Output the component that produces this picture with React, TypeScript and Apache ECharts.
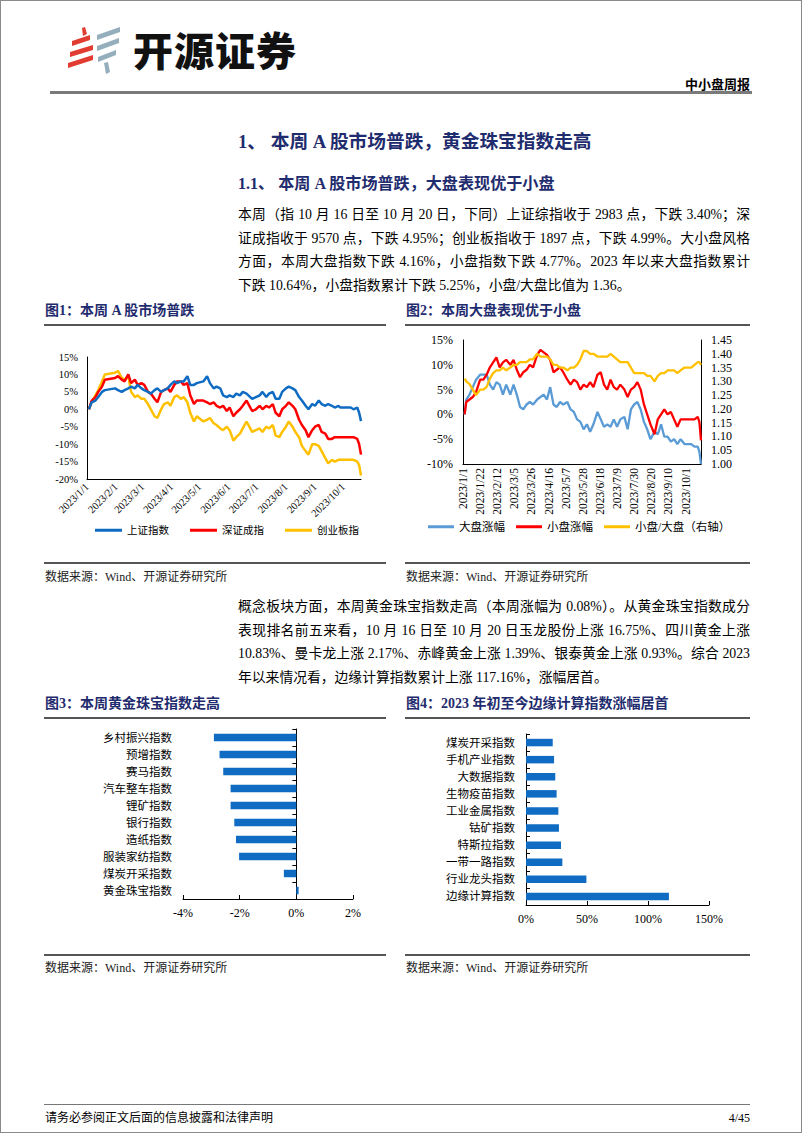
import React, { useEffect, useRef } from "react";
import * as echarts from "echarts";

const FONT = "'Liberation Serif','Times New Roman','Noto Sans CJK SC',serif";
const NAVY = "#1F2C6E";

// ---------- 图1 ----------
const c1Dates = ['2023/1/3','2023/1/6','2023/1/10','2023/1/13','2023/1/17','2023/1/20','2023/1/31','2023/2/3','2023/2/7','2023/2/10','2023/2/14','2023/2/17','2023/2/21','2023/2/24','2023/2/28','2023/3/3','2023/3/7','2023/3/10','2023/3/14','2023/3/17','2023/3/21','2023/3/24','2023/3/28','2023/3/31','2023/4/4','2023/4/7','2023/4/11','2023/4/14','2023/4/18','2023/4/21','2023/4/25','2023/4/28','2023/5/5','2023/5/9','2023/5/12','2023/5/16','2023/5/19','2023/5/23','2023/5/26','2023/5/30','2023/6/2','2023/6/6','2023/6/9','2023/6/13','2023/6/16','2023/6/20','2023/6/26','2023/6/30','2023/7/4','2023/7/7','2023/7/11','2023/7/14','2023/7/18','2023/7/21','2023/7/25','2023/7/28','2023/8/1','2023/8/4','2023/8/8','2023/8/11','2023/8/15','2023/8/18','2023/8/22','2023/8/25','2023/8/29','2023/9/1','2023/9/5','2023/9/8','2023/9/12','2023/9/15','2023/9/19','2023/9/22','2023/9/26','2023/9/28','2023/10/9','2023/10/12','2023/10/16','2023/10/18','2023/10/20'];
const shIndex = [0.0,2.0,2.5,3.5,5.0,5.5,6.0,5.5,5.0,5.5,6.0,6.5,6.0,7.0,6.0,5.5,5.0,4.5,5.5,6.0,5.0,5.5,6.0,7.0,8.0,7.5,8.0,8.0,9.5,7.0,7.0,7.5,8.0,9.5,7.5,6.0,6.5,6.0,4.0,3.5,4.0,3.5,4.5,4.0,5.0,4.5,3.0,3.5,4.0,5.0,3.5,4.5,5.0,3.0,3.0,5.0,6.0,6.5,6.0,5.5,3.5,2.5,1.0,0.0,1.5,1.0,2.5,1.5,1.0,1.5,1.0,0.5,1.0,0.5,0.5,0.0,0.5,-1.0,-3.4];
const szIndex = [0.0,2.5,3.5,5.0,6.5,8.5,9.0,9.5,8.5,8.0,10.0,7.5,8.5,7.0,7.5,7.0,5.0,4.5,3.0,2.0,5.0,5.5,6.0,5.0,7.0,8.0,8.0,7.0,7.5,4.0,1.5,2.5,2.5,2.0,1.5,2.0,1.0,0.5,1.0,-0.5,0.5,-2.0,-1.0,0.0,1.0,2.5,-0.5,0.0,1.0,0.0,1.0,0.5,1.5,-1.0,-2.0,0.0,1.0,2.0,1.0,0.0,-3.0,-4.5,-6.0,-8.0,-6.0,-5.0,-4.5,-6.5,-7.0,-8.5,-8.5,-8.0,-8.0,-8.0,-8.0,-8.0,-8.5,-10.0,-13.0];
const cybIndex = [0.0,2.0,4.0,5.5,8.0,10.0,10.5,11.0,9.0,8.5,9.5,5.0,3.5,4.0,3.0,3.0,1.5,0.0,-2.0,-2.5,0.0,1.5,2.0,1.0,3.5,4.0,3.0,3.5,2.0,-1.0,-3.5,-2.0,-3.5,-3.0,-2.5,-4.0,-4.5,-5.5,-6.0,-5.0,-6.0,-9.0,-8.0,-7.0,-5.5,-3.5,-6.5,-6.0,-5.5,-6.5,-5.0,-5.5,-4.5,-7.5,-8.0,-6.5,-5.0,-3.5,-5.0,-6.5,-8.0,-10.5,-12.0,-13.0,-10.0,-10.0,-10.5,-12.0,-14.0,-15.5,-14.5,-15.0,-14.5,-14.5,-14.5,-14.5,-15.0,-16.0,-19.0];
const c1Names = ['上证指数', '深证成指', '创业板指'];
const c1Ticks = [-20, 15, 5];

// ---------- 图2 ----------
const c2Dates = ['2023/1/3','2023/1/5','2023/1/9','2023/1/13','2023/1/17','2023/1/22','2023/1/26','2023/1/30','2023/2/3','2023/2/7','2023/2/11','2023/2/15','2023/2/19','2023/2/23','2023/2/28','2023/3/4','2023/3/8','2023/3/12','2023/3/16','2023/3/20','2023/3/24','2023/3/28','2023/4/2','2023/4/6','2023/4/10','2023/4/14','2023/4/18','2023/4/22','2023/4/26','2023/4/30','2023/5/4','2023/5/9','2023/5/13','2023/5/17','2023/5/21','2023/5/25','2023/5/29','2023/6/2','2023/6/6','2023/6/10','2023/6/15','2023/6/19','2023/6/23','2023/6/27','2023/7/1','2023/7/5','2023/7/9','2023/7/13','2023/7/18','2023/7/22','2023/7/26','2023/7/30','2023/8/3','2023/8/7','2023/8/11','2023/8/15','2023/8/19','2023/8/24','2023/8/28','2023/9/1','2023/9/5','2023/9/9','2023/9/13','2023/9/17','2023/9/21','2023/9/25','2023/9/30','2023/10/4','2023/10/8','2023/10/12','2023/10/16','2023/10/18','2023/10/20'];
const bigCap = [0.0,3.0,4.0,5.5,7.0,8.0,8.0,8.0,6.0,5.0,6.5,6.0,4.0,6.0,4.0,6.0,4.0,1.5,1.0,2.0,2.5,2.0,3.0,3.5,4.0,3.0,5.5,2.0,1.5,2.5,2.0,2.5,1.0,0.5,-1.0,-1.5,-3.0,-2.0,-3.5,-2.0,0.5,-1.0,-2.5,-2.0,-2.5,-1.0,-2.5,-1.0,-0.5,-3.0,1.0,2.0,2.5,1.0,-1.5,-3.0,-5.0,-3.5,-4.0,-2.0,-4.5,-4.5,-5.5,-5.0,-6.0,-5.0,-6.0,-6.0,-6.0,-6.5,-6.5,-7.5,-10.0];
const smallCap = [0.0,2.5,3.0,3.5,4.5,7.0,7.0,8.0,9.5,10.5,11.5,9.5,10.5,11.0,10.0,11.0,9.0,7.5,8.5,9.0,10.0,9.5,12.0,13.0,12.5,12.0,11.0,8.5,9.0,9.5,8.5,7.0,6.0,7.0,6.5,5.0,6.0,5.5,6.5,5.5,8.0,8.5,6.0,5.0,7.0,5.5,5.0,6.0,5.0,3.5,5.0,5.5,6.5,5.0,2.0,0.0,-2.0,-4.0,-1.0,0.0,1.0,0.0,0.5,-1.0,-2.5,-1.0,-1.0,-1.0,-1.0,-1.0,-0.5,-1.5,-5.25];
const smallBigRatio = [1.31,1.30,1.29,1.27,1.25,1.27,1.27,1.28,1.31,1.33,1.34,1.34,1.35,1.34,1.35,1.36,1.36,1.37,1.37,1.37,1.38,1.38,1.40,1.39,1.39,1.39,1.38,1.36,1.36,1.35,1.35,1.34,1.35,1.35,1.36,1.38,1.41,1.41,1.40,1.40,1.39,1.39,1.39,1.39,1.40,1.39,1.38,1.37,1.37,1.37,1.35,1.33,1.33,1.33,1.33,1.32,1.32,1.30,1.32,1.33,1.33,1.34,1.34,1.34,1.33,1.34,1.35,1.35,1.35,1.36,1.37,1.37,1.36];
const c2Names = ['大盘涨幅', '小盘涨幅', '小盘/大盘（右轴）'];

// ---------- 图3 ----------
const c3Cats = ['乡村振兴指数','预增指数','赛马指数','汽车整车指数','锂矿指数','银行指数','造纸指数','服装家纺指数','煤炭开采指数','黄金珠宝指数'];
const c3Vals = [-2.91,-2.71,-2.58,-2.32,-2.32,-2.19,-2.13,-2.02,-0.44,0.08];

// ---------- 图4 ----------
const c4Cats = ['煤炭开采指数','手机产业指数','大数据指数','生物疫苗指数','工业金属指数','钴矿指数','特斯拉指数','一带一路指数','行业龙头指数','边缘计算指数'];
const c4Vals = [21.9,23.0,24.0,25.1,26.5,27.0,28.7,29.8,49.5,117.16];

const para1 = [
  '本周（指 10 月 16 日至 10 月 20 日，下同）上证综指收于 2983 点，下跌 3.40%；深',
  '证成指收于 9570 点，下跌 4.95%；创业板指收于 1897 点，下跌 4.99%。大小盘风格',
  '方面，本周大盘指数下跌 4.16%，小盘指数下跌 4.77%。2023 年以来大盘指数累计',
  '下跌 10.64%，小盘指数累计下跌 5.25%，小盘/大盘比值为 1.36。',
];
const para2 = [
  '概念板块方面，本周黄金珠宝指数走高（本周涨幅为 0.08%）。从黄金珠宝指数成分',
  '表现排名前五来看，10 月 16 日至 10 月 20 日玉龙股份上涨 16.75%、四川黄金上涨',
  '10.83%、曼卡龙上涨 2.17%、赤峰黄金上涨 1.39%、银泰黄金上涨 0.93%。综合 2023',
  '年以来情况看，边缘计算指数累计上涨 117.16%，涨幅居首。',
];

function buildDays(): string[] {
  const out: string[] = [];
  const d = new Date(2023, 0, 1);
  const e = new Date(2023, 9, 20);
  while (d <= e) {
    out.push(`${d.getFullYear()}/${d.getMonth() + 1}/${d.getDate()}`);
    d.setDate(d.getDate() + 1);
  }
  return out;
}

const BLUE = '#0F6CC2';
const RED = '#FF0000';
const GOLD = '#FFC000';
const LBLUE = '#5B9BD5';
const BAR = '#0F6CC2';

function buildOption() {
  const days = buildDays();
  const lbl = (size: number, extra: any = {}) => ({ color: '#000', fontFamily: FONT, fontSize: size, ...extra });
  const axLine = (onZero = false) => ({ show: true, onZero, lineStyle: { color: '#000', width: 1 } });
  const pct = (v: number) => `${v}%`;
  const lineS = (name: string, dates: string[], vals: number[], color: string, xi: number, yi: number, z: number, w: number) => ({
    name, type: 'line', xAxisIndex: xi, yAxisIndex: yi, z,
    data: dates.map((d, i) => [d, vals[i]]),
    showSymbol: false, symbol: 'none',
    lineStyle: { color, width: w }, itemStyle: { color },
  });
  return {
    animation: false,
    grid: [
      { left: 87, top: 357, width: 274, height: 122, outerBoundsMode: 'none' },
      { left: 463, top: 340, width: 238, height: 124, outerBoundsMode: 'none' },
      { left: 183, top: 729, width: 170, height: 170, outerBoundsMode: 'none' },
      { left: 526, top: 734, width: 183, height: 171, outerBoundsMode: 'none' },
    ],
    legend: [
      {
        data: c1Names, left: 95, top: 525, padding: 0, itemWidth: 27, itemHeight: 3, itemGap: 21, icon: 'rect',
        textStyle: lbl(10.5),
      },
      {
        data: c2Names, left: 428, top: 521, padding: 0, itemWidth: 26, itemHeight: 3, itemGap: 11, icon: 'rect',
        textStyle: lbl(11.5),
      },
    ],
    xAxis: [
      {
        type: 'category', gridIndex: 0, data: days, boundaryGap: false, axisLine: axLine(), axisTick: { show: false },
        axisLabel: lbl(10.5, { rotate: 45, margin: 6, interval: (_i: number, v: string) => v.endsWith('/1') }),
        splitLine: { show: false },
      },
      {
        type: 'category', gridIndex: 1, data: days, boundaryGap: false, axisLine: axLine(), axisTick: { show: false },
        axisLabel: lbl(11.5, { rotate: 90, margin: 4, interval: 20 }), splitLine: { show: false },
      },
      {
        type: 'value', gridIndex: 2, min: -4, max: 2, interval: 2, axisLine: axLine(),
        axisTick: { show: true, inside: true, length: 4, lineStyle: { color: '#000' } },
        axisLabel: lbl(12, { margin: 8, formatter: pct }), splitLine: { show: false },
      },
      {
        type: 'value', gridIndex: 3, min: 0, max: 150, interval: 50, axisLine: axLine(),
        axisTick: { show: true, inside: true, length: 4, lineStyle: { color: '#000' } },
        axisLabel: lbl(12, { margin: 8, formatter: pct }), splitLine: { show: false },
      },
    ],
    yAxis: [
      {
        type: 'value', gridIndex: 0, min: c1Ticks[0], max: c1Ticks[1], interval: c1Ticks[2], axisLine: axLine(),
        axisTick: { show: false }, axisLabel: lbl(10.5, { margin: 9, formatter: pct }), splitLine: { show: false },
      },
      {
        type: 'value', gridIndex: 1, position: 'left', min: -10, max: 15, interval: 5, axisLine: axLine(),
        axisTick: { show: false }, axisLabel: lbl(12, { margin: 10, formatter: pct }), splitLine: { show: false },
      },
      {
        type: 'value', gridIndex: 1, position: 'right', min: 1.0, max: 1.45, interval: 0.05, axisLine: axLine(),
        axisTick: { show: false }, axisLabel: lbl(12, { margin: 10, formatter: (v: number) => v.toFixed(2) }),
        splitLine: { show: false },
      },
      {
        type: 'category', gridIndex: 2, data: c3Cats, inverse: true, axisLine: { show: false, onZero: false },
        axisTick: { show: false }, axisLabel: lbl(11.5, { margin: 11 }),
      },
      {
        type: 'category', gridIndex: 2, data: c3Cats, inverse: true, axisLine: axLine(true),
        axisTick: { show: true, inside: true, length: 4, lineStyle: { color: '#000' } }, axisLabel: { show: false },
      },
      {
        type: 'category', gridIndex: 3, data: c4Cats, inverse: true, axisLine: axLine(true),
        axisTick: { show: true, inside: true, length: 4, lineStyle: { color: '#000' } }, axisLabel: lbl(11.5, { margin: 11 }),
      },
    ],
    series: [
      lineS(c1Names[0], c1Dates, shIndex, BLUE, 0, 0, 4, 2.5),
      lineS(c1Names[1], c1Dates, szIndex, RED, 0, 0, 3, 2.5),
      lineS(c1Names[2], c1Dates, cybIndex, GOLD, 0, 0, 2, 2.5),
      lineS(c2Names[0], c2Dates, bigCap, LBLUE, 1, 1, 2, 2.3),
      lineS(c2Names[1], c2Dates, smallCap, RED, 1, 1, 3, 2.3),
      lineS(c2Names[2], c2Dates, smallBigRatio, GOLD, 1, 2, 4, 2.3),
      { type: 'bar', xAxisIndex: 2, yAxisIndex: 3, data: c3Vals, barWidth: 7.5, itemStyle: { color: BAR } },
      { type: 'bar', xAxisIndex: 3, yAxisIndex: 5, data: c4Vals, barWidth: 7.5, itemStyle: { color: BAR } },
    ],
  };
}

const Txt = (p: { x: number; y: number; size: number; bold?: boolean; color?: string; right?: boolean; family?: string; children: any }) => (
  <div
    style={{
      position: 'absolute',
      left: p.right ? undefined : p.x,
      right: p.right ? 802 - p.x : undefined,
      top: p.y - p.size * 0.75,
      fontSize: p.size,
      lineHeight: `${p.size * 1.5}px`,
      fontWeight: p.bold ? 700 : 400,
      color: p.color || '#000',
      whiteSpace: 'nowrap',
      fontFamily: p.family || FONT,
    }}
  >
    {p.children}
  </div>
);

const HLine = (p: { x: number; y: number; w: number; h?: number; c?: string }) => (
  <div style={{ position: 'absolute', left: p.x, top: p.y, width: p.w, height: p.h || 1.5, background: p.c || '#555' }} />
);

const PX = 238;
const PW = 512;
const Para = ({ lines, ys }: { lines: string[]; ys: number[] }) => (
  <>
    {lines.map((t, i) => (
      <div
        key={i}
        style={{
          position: 'absolute', left: PX, top: ys[i] - 12, width: PW, height: 24, lineHeight: '24px', fontSize: 13.8,
          textAlign: 'justify', textAlignLast: i === lines.length - 1 ? 'left' : 'justify', fontFamily: FONT, color: '#000',
        } as any}
      >
        {t}
      </div>
    ))}
  </>
);

export default function App() {
  const ref = useRef<HTMLDivElement>(null);
  useEffect(() => {
    const chart = echarts.init(ref.current!, null, { renderer: 'svg' });
    chart.setOption(buildOption() as any);
    return () => chart.dispose();
  }, []);
  return (
    <div style={{ position: 'absolute', left: 0, top: 0, width: 802, height: 1133, background: '#fff', overflow: 'hidden', fontFamily: FONT }}>
      <div ref={ref} style={{ position: 'absolute', left: 0, top: 0, width: 802, height: 1133 }} />

      {/* header logo */}
      <svg style={{ position: 'absolute', left: 0, top: 0 }} width={140} height={90}>
        <g fill="#E03C31">
          <polygon points="83,36 87,34 85,27 82,28" />
          <polygon points="72,46 90,40 90,35 72,41" />
          <polygon points="70,57 93,50 93,45 70,52" />
          <polygon points="68,68 93,60 93,55 68,63" />
        </g>
        <g fill="#94AEBC">
          <polygon points="97,40 120,32 120,27 97,35" />
          <polygon points="97,51 119,43 119,38 97,46" />
          <polygon points="98,62 116,55 116,50 98,57" />
          <polygon points="104,63 108,62 110,72 106,74" />
        </g>
      </svg>
      <div style={{ position: 'absolute', left: 133, top: 26, fontSize: 40, lineHeight: '46px', fontWeight: 900, fontFamily: "'Noto Sans CJK SC',sans-serif", color: '#111', letterSpacing: 1 }}>开源证券</div>
      <Txt x={750} y={84} size={13} bold right family="'Noto Sans CJK SC',sans-serif">中小盘周报</Txt>
      <HLine x={50} y={91} w={702} h={2.5} c="#7a7a7a" />

      {/* section titles */}
      <Txt x={PX} y={142} size={18.7} bold color={NAVY}>1、 本周 A 股市场普跌，黄金珠宝指数走高</Txt>
      <Txt x={PX} y={184} size={16.1} bold color={NAVY}>1.1、 本周 A 股市场普跌，大盘表现优于小盘</Txt>
      <Para lines={para1} ys={[215, 239, 262, 286]} />

      {/* figure 1/2 captions */}
      <Txt x={45} y={310} size={14} bold color={NAVY}>图1：本周 A 股市场普跌</Txt>
      <Txt x={406} y={310} size={14} bold color={NAVY}>图2：本周大盘表现优于小盘</Txt>
      <HLine x={44} y={324} w={342} />
      <HLine x={405} y={324} w={345} />
      <HLine x={44} y={562} w={342} />
      <HLine x={405} y={562} w={345} />
      <Txt x={45} y={577} size={12} color="#222">数据来源：Wind、开源证券研究所</Txt>
      <Txt x={406} y={577} size={12} color="#222">数据来源：Wind、开源证券研究所</Txt>

      <Para lines={para2} ys={[607, 631, 654, 678]} />

      {/* figure 3/4 captions */}
      <Txt x={45} y={703} size={14} bold color={NAVY}>图3：本周黄金珠宝指数走高</Txt>
      <Txt x={406} y={703} size={14} bold color={NAVY}>图4：2023 年初至今边缘计算指数涨幅居首</Txt>
      <HLine x={44} y={717} w={342} />
      <HLine x={405} y={717} w={345} />
      <HLine x={44} y={954} w={342} />
      <HLine x={405} y={954} w={345} />
      <Txt x={45} y={968} size={12} color="#222">数据来源：Wind、开源证券研究所</Txt>
      <Txt x={406} y={968} size={12} color="#222">数据来源：Wind、开源证券研究所</Txt>

      {/* footer */}
      <HLine x={44} y={1104} w={706} h={1} c="#777" />
      <Txt x={45} y={1118} size={12}>请务必参阅正文后面的信息披露和法律声明</Txt>
      <Txt x={750} y={1118} size={12} right>4/45</Txt>

      <div style={{ position: 'absolute', left: 0, top: 0, width: 802, height: 1133, boxSizing: 'border-box', border: '1px solid #8a8a8a', pointerEvents: 'none' }} />
    </div>
  );
}
